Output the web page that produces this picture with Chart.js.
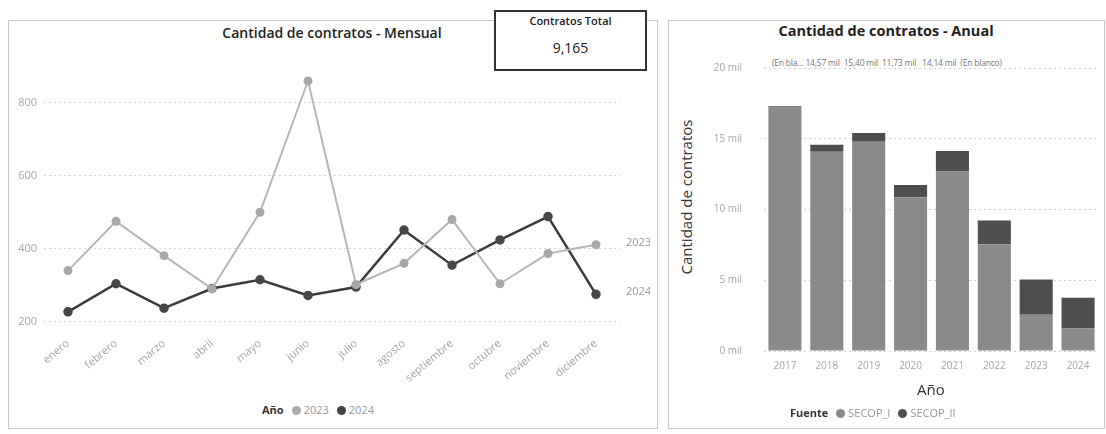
<!DOCTYPE html>
<html><head><meta charset="utf-8">
<script src="https://cdn.jsdelivr.net/npm/chart.js@4.4.0/dist/chart.umd.min.js"></script>
<style>
body{margin:0;width:1106px;height:434px;background:#fff;position:relative;overflow:hidden;font-family:"Open Sans",sans-serif;}
.abs{position:absolute;white-space:nowrap;}
.panel{position:absolute;border:1px solid #c8c8c8;}
.dot{display:inline-block;width:9px;height:9px;border-radius:50%;margin:0 3px 0 8px;vertical-align:-1px;}
</style></head>
<body>
<div class="panel" style="left:8px;top:20px;width:648px;height:407px;"></div>
<div class="panel" style="left:668px;top:20px;width:435px;height:407px;"></div>

<div class="abs" style="left:0;width:664px;top:23px;text-align:center;font-weight:600;font-size:14px;color:#222">Cantidad de contratos - Mensual</div>

<div class="abs" style="left:494px;top:10px;width:149px;height:57px;border:2px solid #333;background:#fff;">
  <div style="text-align:center;font-size:11px;font-weight:600;color:#222;margin-top:1px">Contratos Total</div>
  <div style="text-align:center;font-size:14px;color:#222;margin-top:10px">9,165</div>
</div>

<div class="abs" style="left:8px;top:60px;"><canvas id="c1" width="642" height="330"></canvas></div>

<div class="abs" style="left:262px;top:402px;font-size:11px;color:#999">
  <span style="font-weight:700;color:#333">Año</span><span class="dot" style="background:#acacac"></span>2023<span class="dot" style="background:#444"></span>2024
</div>

<div class="abs" style="left:668px;width:436px;top:21px;text-align:center;font-weight:700;font-size:14.5px;color:#222">Cantidad de contratos - Anual</div>
<div class="abs" style="left:772px;top:57px;font-size:8.5px;color:#777;letter-spacing:-0.2px">(En bla... 14,57 mil &nbsp;15,40 mil &nbsp;11,73 mil &nbsp; 14,14 mil &nbsp;(En blanco)</div>

<div class="abs" style="left:686px;top:197px;transform:translate(-50%,-50%) rotate(-90deg);font-size:15px;color:#333">Cantidad de contratos</div>

<div class="abs" style="left:668px;top:40px;"><canvas id="c2" width="435" height="340"></canvas></div>

<div class="abs" style="left:917px;top:379px;font-size:15px;color:#333">Año</div>
<div class="abs" style="left:790px;top:405px;font-size:11px;color:#999">
  <span style="font-weight:700;color:#333">Fuente</span><span class="dot" style="background:#8a8a8a"></span>SECOP_I<span class="dot" style="background:#4e4e4e"></span>SECOP_II
</div>

<script>
const months = ['enero','febrero','marzo','abril','mayo','junio','julio','agosto','septiembre','octubre','noviembre','diciembre'];
const series2023 = [340,475,381,290,500,860,302,360,480,304,387,411];
const series2024 = [227,304,237,291,315,272,295,451,355,424,488,275];
const monthlyTicks = [200,400,600,800];

const years = ['2017','2018','2019','2020','2021','2022','2023','2024'];
const secopI  = [17240,14090,14790,10860,12680,7550,2570,1590];
const secopII = [50,480,610,870,1460,1680,2480,2170];

const FONT = 'Open Sans';
const tickColor = '#a6a6a6';

const endLabels = {
  id:'endLabels',
  afterDatasetsDraw(chart){
    const ctx = chart.ctx;
    ctx.save();
    ctx.font = '11px ' + FONT;
    ctx.fillStyle = '#9a9a9a';
    ctx.textBaseline = 'middle';
    ctx.textAlign = 'left';
    chart.data.datasets.forEach((ds,i)=>{
      const meta = chart.getDatasetMeta(i);
      const pt = meta.data[meta.data.length-1];
      ctx.fillText(ds.label, chart.chartArea.right + 6, pt.y - 2);
    });
    ctx.restore();
  }
};

new Chart(document.getElementById('c1'), {
  type:'line',
  data:{
    labels: months,
    datasets:[
      {label:'2023', data:series2023, borderColor:'#b6b6b6', backgroundColor:'#a8a8a8', pointBackgroundColor:'#a8a8a8', pointBorderColor:'#a8a8a8', borderWidth:2, pointRadius:3.5, tension:0},
      {label:'2024', data:series2024, borderColor:'#3c3c3c', backgroundColor:'#444', pointBackgroundColor:'#474747', pointBorderColor:'#474747', borderWidth:2.5, pointRadius:3.5, tension:0}
    ]
  },
  options:{
    responsive:false, animation:false,
    layout:{padding:{top:6,right:30,left:0,bottom:0}},
    plugins:{legend:{display:false}, tooltip:{enabled:false}},
    scales:{
      x:{offset:true, grid:{display:false}, border:{display:false},
         ticks:{minRotation:40,maxRotation:40,color:tickColor,font:{size:11,family:FONT},padding:0},
         afterFit:s=>{s.height=61;}},
      y:{min:180,max:880,
         afterBuildTicks:s=>{s.ticks = monthlyTicks.map(v=>({value:v}));},
         grid:{color:'#d4d4d4', drawTicks:false, lineWidth:1},
         border:{display:false, dash:[2,3]},
         ticks:{color:tickColor,font:{size:11,family:FONT},padding:7},
         afterFit:s=>{s.width=36;}}
    }
  },
  plugins:[endLabels]
});

new Chart(document.getElementById('c2'), {
  type:'bar',
  data:{
    labels: years,
    datasets:[
      {label:'SECOP_I', data:secopI, backgroundColor:'#8a8a8a', barPercentage:0.79, categoryPercentage:1},
      {label:'SECOP_II', data:secopII, backgroundColor:'#4e4e4e', barPercentage:0.79, categoryPercentage:1}
    ]
  },
  options:{
    responsive:false, animation:false,
    layout:{padding:{top:25,right:4,left:0,bottom:0}},
    plugins:{legend:{display:false}, tooltip:{enabled:false}},
    scales:{
      x:{stacked:true, grid:{display:false}, border:{display:false},
         ticks:{color:tickColor,font:{size:10,family:FONT},padding:1,maxRotation:0},
         afterFit:s=>{s.height=29;}},
      y:{stacked:true,min:0,max:20000,
         grid:{color:'#d0d0d0', drawTicks:false},
         border:{display:false, dash:[2,3]},
         ticks:{stepSize:5000,color:tickColor,font:{size:10,family:FONT},padding:22,callback:v=>(v/1000)+' mil'},
         afterFit:s=>{s.width=96;}}
    }
  }
});
</script>
</body></html>
